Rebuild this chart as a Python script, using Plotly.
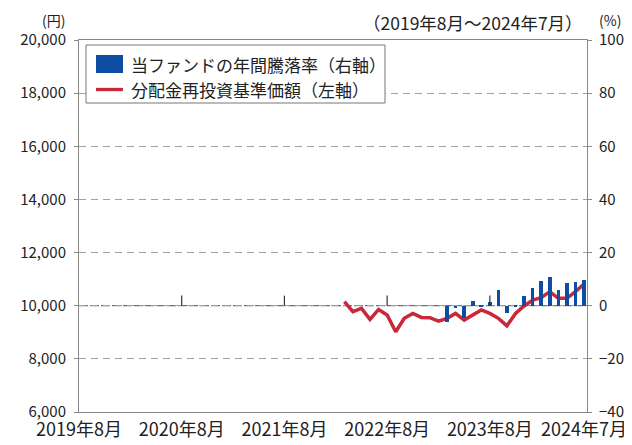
import plotly.graph_objects as go

# ---- data ----
tick_months = ["2019-08", "2020-08", "2021-08", "2022-08", "2023-08", "2024-07"]
tick_labels = ["2019年8月", "2020年8月", "2021年8月", "2022年8月", "2023年8月", "2024年7月"]

nav_months = ["2022-03", "2022-04", "2022-05", "2022-06", "2022-07", "2022-08", "2022-09",
              "2022-10", "2022-11", "2022-12", "2023-01", "2023-02", "2023-03", "2023-04",
              "2023-05", "2023-06", "2023-07", "2023-08", "2023-09", "2023-10", "2023-11",
              "2023-12", "2024-01", "2024-02", "2024-03", "2024-04", "2024-05", "2024-06",
              "2024-07"]
nav_values = [10150, 9775, 9900, 9485, 9860, 9650, 9020, 9525, 9710, 9560, 9550, 9420,
              9525, 9710, 9460, 9650, 9840, 9710, 9525, 9245, 9710, 9990, 10215, 10300,
              10530, 10280, 10280, 10530, 10820]

ret_months = ["2023-03", "2023-04", "2023-05", "2023-06", "2023-07", "2023-08", "2023-09",
              "2023-10", "2023-11", "2023-12", "2024-01", "2024-02", "2024-03", "2024-04",
              "2024-05", "2024-06", "2024-07"]
ret_values = [-6.3, -1.0, -4.5, 1.8, -0.5, 1.5, 5.9, -2.9, -0.4, 3.6, 6.5, 9.3, 10.9,
              5.9, 8.6, 9.0, 9.7]

legend_bar = "当ファンドの年間騰落率（右軸）"
legend_line = "分配金再投資基準価額（左軸）"


def midx(s):
    y, m = s.split("-")
    return (int(y) - 2019) * 12 + int(m) - 8


FONT = "Noto Sans CJK JP"
BAR_C = "#0E4DA4"
LINE_C = "#C8283A"

fig = go.Figure()
fig.add_trace(go.Bar(x=[midx(m) for m in ret_months], y=ret_values, yaxis="y2",
                     marker=dict(color=BAR_C, line=dict(width=0)), width=0.42,
                     name=legend_bar, showlegend=False))
fig.add_trace(go.Scatter(x=[midx(m) for m in nav_months], y=nav_values, mode="lines",
                         line=dict(color=LINE_C, width=3.5), name=legend_line,
                         showlegend=False))

# baseline at 10,000 and year markers
fig.add_shape(type="line", xref="paper", yref="y", x0=0, x1=1, y0=10000, y1=10000,
              line=dict(color="#707070", width=1.3, dash="9px,2px"), layer="below")
for m in tick_months[1:-1]:
    fig.add_shape(type="line", xref="x", yref="y", x0=midx(m), x1=midx(m),
                  y0=10000, y1=10380, line=dict(color="#333", width=1.2))

# page has an 8px body margin: positions below are in window pixels of the target
def px2x(px):
    return (px - 79) / 508


def py2y(py):
    return (412 - py) / 372


fig.add_shape(type="rect", xref="paper", yref="paper", x0=px2x(86), x1=px2x(385),
              y0=py2y(103), y1=py2y(45), line=dict(color="#777", width=1),
              fillcolor="white", layer="above")
fig.add_shape(type="rect", xref="paper", yref="paper", x0=px2x(96), x1=px2x(123),
              y0=py2y(73), y1=py2y(55), line=dict(width=0), fillcolor=BAR_C, layer="above")
fig.add_shape(type="line", xref="paper", yref="paper", x0=px2x(96), x1=px2x(123),
              y0=py2y(89.5), y1=py2y(89.5), line=dict(color=LINE_C, width=3.3), layer="above")
fig.add_annotation(text=legend_bar, xref="paper", yref="paper", x=px2x(129), y=py2y(64),
                   xanchor="left", yanchor="middle", showarrow=False,
                   font=dict(family=FONT, size=17, color="#222"))
fig.add_annotation(text=legend_line, xref="paper", yref="paper", x=px2x(129), y=py2y(89.5),
                   xanchor="left", yanchor="middle", showarrow=False,
                   font=dict(family=FONT, size=17, color="#222"))

# header texts
fig.add_annotation(text="(円)", xref="paper", yref="paper", x=px2x(53), y=py2y(8),
                   xanchor="center", yanchor="top", showarrow=False,
                   font=dict(family=FONT, size=14, color="#222"))
fig.add_annotation(text="（2019年8月～2024年7月）", xref="paper", yref="paper", x=px2x(585),
                   y=py2y(8), xanchor="right", yanchor="top", showarrow=False,
                   font=dict(family=FONT, size=17.5, color="#222"))
fig.add_annotation(text="(%)", xref="paper", yref="paper", x=px2x(610), y=py2y(8),
                   xanchor="center", yanchor="top", showarrow=False,
                   font=dict(family=FONT, size=14, color="#222"))

fig.update_layout(
    width=624, height=437,
    margin=dict(l=71, r=45, t=32, b=33, autoexpand=False),
    paper_bgcolor="white", plot_bgcolor="white",
    font=dict(family=FONT, size=15, color="#222"),
    showlegend=False,
    bargap=0,
    xaxis=dict(range=[0, 59.35], tickvals=[midx(m) for m in tick_months],
               ticktext=tick_labels, showgrid=False, zeroline=False, automargin=False,
               showline=True, mirror=True, linecolor="#888", linewidth=1,
               ticks="", tickfont=dict(size=18), ticklabelstandoff=1),
    yaxis=dict(range=[6000, 20000], dtick=2000, tickformat=",", showgrid=True,
               gridcolor="#a0a0a0", gridwidth=1, griddash="7px,5px", zeroline=False,
               showline=True, mirror=True, linecolor="#888", linewidth=1, automargin=False,
               ticks="outside", ticklen=4, tickcolor="#888", ticklabelstandoff=5),
    yaxis2=dict(range=[-40, 100], dtick=20, overlaying="y", side="right",
                showgrid=False, zeroline=False, showline=False, automargin=False,
                ticks="outside", ticklen=4, tickcolor="#888", ticklabelstandoff=4),
)

fig.write_html("out.html")
